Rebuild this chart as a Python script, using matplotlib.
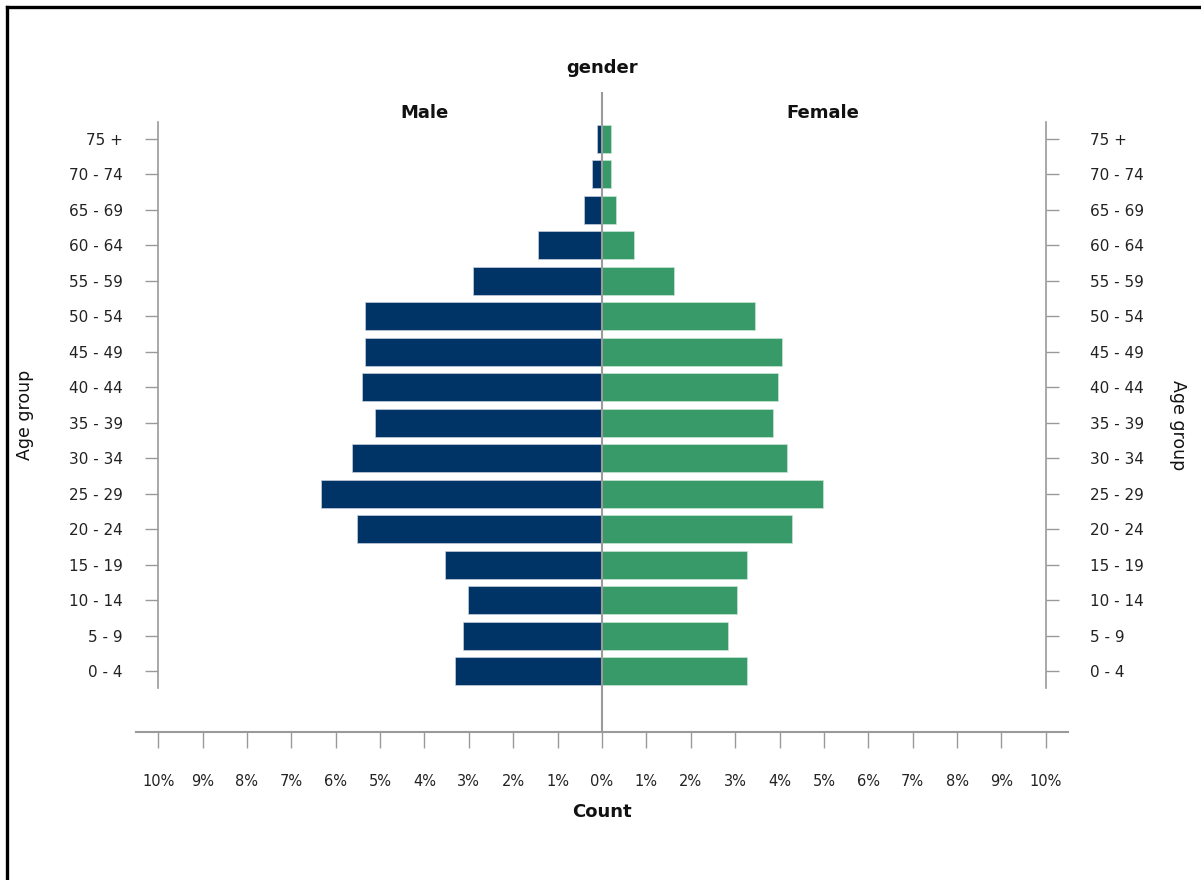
import matplotlib
matplotlib.use("Agg")
import matplotlib.pyplot as plt
from matplotlib.lines import Line2D

age_groups = ["0 - 4", "5 - 9", "10 - 14", "15 - 19", "20 - 24", "25 - 29", "30 - 34",
              "35 - 39", "40 - 44", "45 - 49", "50 - 54", "55 - 59", "60 - 64",
              "65 - 69", "70 - 74", "75 +"]
male = [3.31, 3.13, 3.02, 3.54, 5.52, 6.33, 5.63, 5.11, 5.41, 5.34, 5.34, 2.91, 1.44, 0.41, 0.23, 0.12]
female = [3.26, 2.85, 3.04, 3.26, 4.27, 4.97, 4.16, 3.86, 3.97, 4.05, 3.45, 1.62, 0.72, 0.31, 0.20, 0.20]
x_ticks = list(range(-10, 11))
x_tick_labels = [f"{abs(v)}%" for v in x_ticks]

W, H = 1201, 880
MALE_C = "#003366"
FEMALE_C = "#379a68"
GRAY = "#9a9a9a"

fig = plt.figure(figsize=(W / 100, H / 100), dpi=100)
fig.patch.set_facecolor("white")

def px(x, y):
    return x / W, 1 - y / H

ax_l, ax_r = 136, 1068
ax_t, ax_b = 92, 732
ax = fig.add_axes([ax_l / W, 1 - ax_b / H, (ax_r - ax_l) / W, (ax_b - ax_t) / H])
ax.set_xlim(-10.5, 10.5)
ax.set_ylim(-1.72, 16.325)

ypos = list(range(len(age_groups)))
ax.barh(ypos, [-v for v in male], height=0.79, color=MALE_C, edgecolor="#c8d0dc", linewidth=0.5, zorder=2)
ax.barh(ypos, female, height=0.79, color=FEMALE_C, edgecolor="#c8e6d4", linewidth=0.5, zorder=2)

ax.axvline(0, color=GRAY, linewidth=1.5, zorder=3)

ax.spines["top"].set_visible(False)
ax.spines["bottom"].set_color(GRAY)
ax.spines["bottom"].set_linewidth(1.5)
ax.spines["left"].set_position(("data", -10))
ax.spines["right"].set_position(("data", 10))
for s in ["left", "right"]:
    ax.spines[s].set_color(GRAY)
    ax.spines[s].set_linewidth(1.2)
    ax.spines[s].set_bounds(-0.48, 15.48)

ax.set_yticks(ypos)
ax.set_yticklabels(age_groups)
ax.tick_params(axis="y", which="both", left=True, right=True, labelleft=True, labelright=True,
               length=9.5, width=1.0, color=GRAY, labelsize=11, labelcolor="#222222")
for t in ax.yaxis.get_major_ticks():
    t.set_pad(16)
    t.label2.set_horizontalalignment("left")
    t.label2.set_x(1.0)
# shift right labels further out
from matplotlib.transforms import ScaledTranslation
offset = ScaledTranslation(9 / 100, 0, fig.dpi_scale_trans)
for lbl in ax.get_yticklabels(which="major"):
    pass
for t in ax.yaxis.get_major_ticks():
    t.label2.set_transform(t.label2.get_transform() + offset)

ax.set_xticks(x_ticks)
ax.set_xticklabels(x_tick_labels)
ax.tick_params(axis="x", length=11.5, width=1.0, color=GRAY, pad=19, labelsize=10.5, labelcolor="#222222")

fig.text(*px(602, 68), "gender", ha="center", va="center", fontsize=13, fontweight="bold", color="#111111")
fig.text(*px(424, 113), "Male", ha="center", va="center", fontsize=13, fontweight="bold", color="#111111")
fig.text(*px(823, 113), "Female", ha="center", va="center", fontsize=13, fontweight="bold", color="#111111")
fig.text(*px(602, 812), "Count", ha="center", va="center", fontsize=13, fontweight="bold", color="#111111")
fig.text(*px(25, 415), "Age group", ha="center", va="center", fontsize=12.5, rotation=90, color="#111111")
fig.text(*px(1178, 425), "Age group", ha="center", va="center", fontsize=12.5, rotation=270, color="#111111")

fig.add_artist(Line2D([7 / W, 7 / W], [0, 1 - 7 / H], transform=fig.transFigure, color="black", linewidth=2.4))
fig.add_artist(Line2D([7 / W, 1], [1 - 7 / H, 1 - 7 / H], transform=fig.transFigure, color="black", linewidth=2.4))

fig.savefig("out.png", dpi=100, facecolor="white")
